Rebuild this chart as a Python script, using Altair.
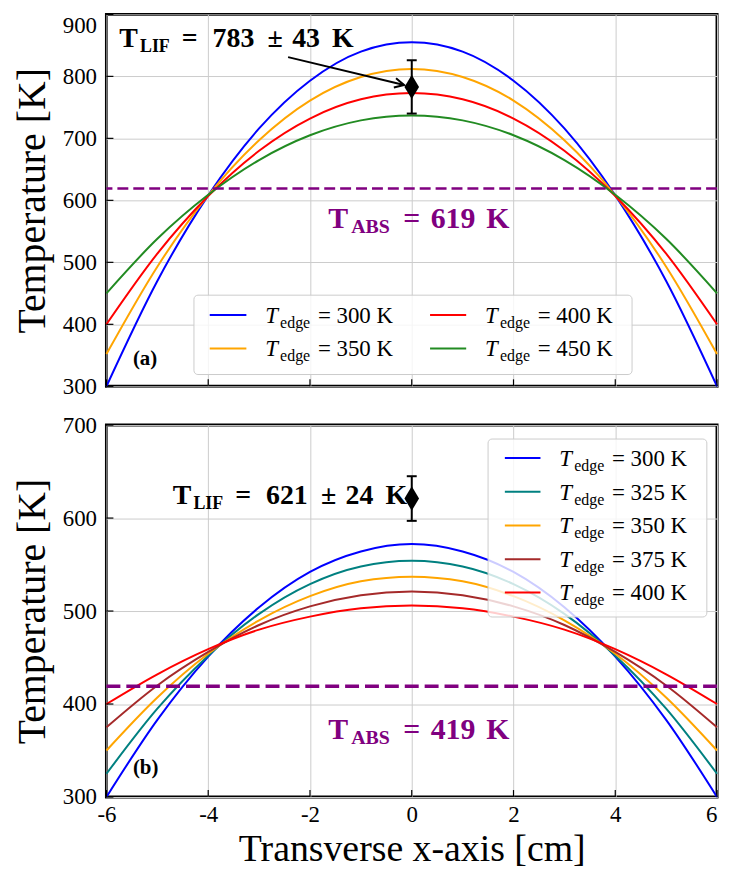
import math
import altair as alt
import pandas as pd

# ---------------- data ----------------
x_cm = [-6, -5, -4, -3, -2, -1, 0, 1, 2, 3, 4, 5, 6]

edges_a = [300, 350, 400, 450]
temps_a = [
    [300, 470, 608, 716, 793, 840, 855, 840, 793, 716, 608, 470, 300],
    [352, 493, 608, 697, 761, 799, 812, 799, 761, 697, 608, 493, 352],
    [400, 514, 607, 680, 732, 763, 773, 763, 732, 680, 607, 514, 400],
    [450, 538, 609, 665, 705, 729, 737, 729, 705, 665, 609, 538, 450],
]
colors_a = ["#0000ff", "#ffa500", "#ff0000", "#228b22"]

edges_b = [300, 325, 350, 375, 400]
temps_b = [
    [300, 383, 451, 504, 542, 564, 572, 564, 542, 504, 451, 383, 300],
    [325, 395, 452, 497, 529, 548, 554, 548, 529, 497, 452, 395, 325],
    [350, 407, 454, 490, 516, 532, 537, 532, 516, 490, 454, 407, 350],
    [375, 420, 456, 485, 505, 517, 521, 517, 505, 485, 456, 420, 375],
    [400, 432, 459, 480, 494, 503, 506, 503, 494, 480, 459, 432, 400],
]
colors_b = ["#0000ff", "#008080", "#ffa500", "#a52a2a", "#ff0000"]

lif_x = [0.0, 0.0]
lif_t = [783, 621]
lif_err = [43, 24]
abs_t = [619, 419]

x_ticks = [-6, -4, -2, 0, 2, 4, 6]
y_ticks_a = [300, 400, 500, 600, 700, 800, 900]
y_ticks_b = [300, 400, 500, 600, 700]

# ---------------- layout / style ----------------
FONT = "Liberation Serif"
PURPLE = "#800080"
W, H = 614, 374
PXC = W / 12.0  # pixels per cm

lay_a = dict(
    key="a", ydom=[300, 900], yticks=y_ticks_a, tag="(a)",
    lif_anchor=(-5.81, 847), abs_anchor=(-1.66, 555), tag_anchor=(-5.48, 335),
    arrow=((-2.43, 831), (-0.15, 786)),
    box=(-4.28, 4.33, 447, 319),
    leg=[(-3.97, -3.25, -2.88, 415), (-3.97, -3.25, -2.88, 361),
         (0.36, 1.07, 1.44, 415), (0.36, 1.07, 1.44, 361)],
    dash_w=2.5, dash=[11, 5], show_x=False, top_flag=900,
)
lay_b = dict(
    key="b", ydom=[300, 700], yticks=y_ticks_b, tag="(b)",
    lif_anchor=(-4.76, 615.5), abs_anchor=(-1.66, 362), tag_anchor=(-5.48, 325),
    arrow=None,
    box=(1.50, 5.80, 685, 493.6),
    leg=[(1.83, 2.53, 2.90, y) for y in (664.7, 628.3, 592, 555.6, 520)],
    dash_w=3.5, dash=[14, 6], show_x=True, top_flag=None,
)


def panel(i, edges, temps, colors, lay):
    ydom = lay["ydom"]
    ypx = H / (ydom[1] - ydom[0])
    xsc = alt.Scale(domain=[-6, 6], nice=False, zero=False)
    ysc = alt.Scale(domain=ydom, nice=False, zero=False)
    if lay["show_x"]:
        xax = alt.Axis(values=x_ticks, labelExpr="'' + datum.value", labelFontSize=23,
                       labelPadding=7, labelFlush=False, ticks=False, tickSize=0,
                       labelAlign={"condition": {"test": f"datum.value == {x_ticks[-1]}",
                                                 "value": "right"}, "value": "center"},
                       domain=False, grid=True, title="Transverse x-axis [cm]",
                       titleFontSize=38, titleFontWeight="normal", titlePadding=4)
    else:
        xax = alt.Axis(values=x_ticks, labels=False, ticks=False, tickSize=0,
                       domain=False, grid=True, title=None)
    yopts = dict(values=lay["yticks"], labelFontSize=23, labelPadding=10, labelFlush=False,
                 ticks=False, tickSize=0, domain=False, grid=True,
                 title="Temperature [K]", titleFontSize=40, titleFontWeight="normal",
                 titlePadding=10)
    if lay["top_flag"] is not None:
        yopts["labelBaseline"] = {"condition": {"test": f"datum.value == {lay['top_flag']}",
                                                "value": "top"}, "value": "middle"}
    yax = alt.Axis(**yopts)

    def X(f="x"):
        return alt.X(f"{f}:Q", scale=xsc, axis=xax)

    def Y(f="T"):
        return alt.Y(f"{f}:Q", scale=ysc, axis=yax)

    names = [f"{lay['key']}: T_edge = {e} K" for e in edges]
    df = pd.DataFrame([{"x": x, "T": t, "s": n}
                       for n, vals in zip(names, temps) for x, t in zip(x_cm, vals)])
    cscale = alt.Scale(domain=names, range=colors)
    curves = alt.Chart(df).mark_line(strokeWidth=2, interpolate="monotone").encode(
        x=X(), y=Y(), color=alt.Color("s:N", scale=cscale, legend=None))

    dash = alt.Chart(pd.DataFrame({"T": [abs_t[i]]})).mark_rule(
        color=PURPLE, strokeWidth=lay["dash_w"], strokeDash=lay["dash"]).encode(y=Y())

    # legend (drawn by hand so that the subscript can be typeset)
    bx0, bx1, by0, by1 = lay["box"]
    legbox = alt.Chart(pd.DataFrame({"x": [bx0], "x2": [bx1], "T": [by0], "T2": [by1]})).mark_rect(
        fill="white", fillOpacity=0.8, stroke="#cccccc", strokeWidth=1, cornerRadius=4).encode(
        x=X(), x2=alt.X2("x2:Q"), y=Y(), y2=alt.Y2("T2:Q"))
    legrows = pd.DataFrame([{"x": p[0], "x2": p[1], "tx": p[2], "T": p[3], "s": n,
                             "lab": f"= {e} K"}
                            for p, n, e in zip(lay["leg"], names, edges)])
    legline = alt.Chart(legrows).mark_rule(strokeWidth=2).encode(
        x=X(), x2=alt.X2("x2:Q"), y=Y(), color=alt.Color("s:N", scale=cscale, legend=None))
    legT = alt.Chart(legrows).mark_text(font=FONT, fontSize=23, fontStyle="italic", align="left",
                                        baseline="alphabetic", dy=8, color="black").encode(
        x=X("tx"), y=Y(), text=alt.value("T"))
    legSub = alt.Chart(legrows).mark_text(font=FONT, fontSize=16, align="left",
                                          baseline="alphabetic", dy=13, dx=15, color="black").encode(
        x=X("tx"), y=Y(), text=alt.value("edge"))
    legLab = alt.Chart(legrows).mark_text(font=FONT, fontSize=23, align="left",
                                          baseline="alphabetic", dy=8, dx=53, color="black").encode(
        x=X("tx"), y=Y(), text="lab:N")

    # LIF measurement with error bar
    e = pd.DataFrame({"x": [lif_x[i]], "T": [lif_t[i]], "err": [lif_err[i]]})
    base_e = alt.Chart(e).transform_calculate(lo="datum.T - datum.err", hi="datum.T + datum.err")
    ebar = base_e.mark_rule(color="black", strokeWidth=2).encode(
        x=X(), y=Y("lo"), y2=alt.Y2("hi:Q"))
    cap_lo = base_e.mark_tick(orient="horizontal", size=10, thickness=2, color="black",
                              opacity=1).encode(x=X(), y=Y("lo"))
    cap_hi = base_e.mark_tick(orient="horizontal", size=10, thickness=2, color="black",
                              opacity=1).encode(x=X(), y=Y("hi"))
    diamond = alt.Chart(e).mark_point(shape="M0,-1L0.6,0L0,1L-0.6,0Z", filled=True, size=600,
                                      color="black", opacity=1).encode(x=X(), y=Y())

    def texts(rows, size, color="black", dy=0, weight="bold"):
        return alt.Chart(pd.DataFrame(rows)).mark_text(
            font=FONT, fontSize=size, fontWeight=weight, color=color, dy=dy,
            align="center", baseline="alphabetic").encode(x=X(), y=Y(), text="t:N")

    ax0, ay0 = lay["lif_anchor"]
    lif_main = [("T", 12.5), ("=", 74), (str(lif_t[i]), 118), ("±", 160),
                (str(lif_err[i]), 191), ("K", 228)]
    lifm = texts([{"x": ax0 + d / PXC, "T": ay0, "t": s} for s, d in lif_main], 28)
    lifs = texts([{"x": ax0 + 39 / PXC, "T": ay0, "t": "LIF"}], 18, dy=5)

    bx, byy = lay["abs_anchor"]
    abs_main = [("T", 11), ("=", 85), (str(abs_t[i]), 126.5), ("K", 171.5)]
    absm = texts([{"x": bx + d / PXC, "T": byy, "t": s} for s, d in abs_main], 30, color=PURPLE)
    abss = texts([{"x": bx + 43.5 / PXC, "T": byy, "t": "ABS"}], 20, color=PURPLE, dy=5)

    tx, ty = lay["tag_anchor"]
    tag = alt.Chart(pd.DataFrame({"x": [tx], "T": [ty], "t": [lay["tag"]]})).mark_text(
        font=FONT, fontSize=21, fontWeight="bold", align="left", baseline="alphabetic",
        color="black").encode(x=X(), y=Y(), text="t:N")

    # inward ticks
    xt = alt.Chart(pd.DataFrame({"x": x_ticks})).mark_rule(color="black", strokeWidth=1.2).encode(
        x=X(), y=alt.value(H), y2=alt.value(H - 7))
    yt = alt.Chart(pd.DataFrame({"T": lay["yticks"]})).mark_rule(color="black", strokeWidth=1.2).encode(
        y=Y(), x=alt.value(0), x2=alt.value(7))

    layers = [curves, dash, legbox, legline, legT, legSub, legLab,
              ebar, cap_lo, cap_hi, diamond, lifm, lifs, absm, abss, tag, xt, yt]

    if lay["arrow"] is not None:
        (x1, y1), (x2, y2) = lay["arrow"]
        ang = math.degrees(math.atan2((y1 - y2) * ypx, (x2 - x1) * PXC))
        arr = pd.DataFrame({"x": [x1], "T": [y1], "x2": [x2], "T2": [y2]})
        shaft = alt.Chart(arr).mark_rule(color="black", strokeWidth=2).encode(
            x=X(), y=Y(), x2=alt.X2("x2:Q"), y2=alt.Y2("T2:Q"))
        head = alt.Chart(pd.DataFrame({"x": [x2], "T": [y2]})).mark_point(
            shape="M-1,-0.5L0,0L-1,0.5", filled=False, size=360, strokeWidth=2,
            color="black", opacity=1, angle=ang).encode(x=X(), y=Y())
        layers += [shaft, head]

    return alt.layer(*layers).properties(width=W, height=H)


pa = panel(0, edges_a, temps_a, colors_a, lay_a)
pb = panel(1, edges_b, temps_b, colors_b, lay_b)

chart = alt.vconcat(pa, pb, spacing=12).resolve_scale(
    color="independent"
).properties(
    padding={"left": 3, "top": 1, "right": 0, "bottom": 0}
).configure_view(
    stroke="black", strokeWidth=3
).configure_axis(
    labelFont=FONT, titleFont=FONT, labelColor="black", titleColor="black",
    gridColor="#cccccc", gridWidth=1
)

chart.save("out.html", embed_options={"renderer": "svg", "actions": False})
